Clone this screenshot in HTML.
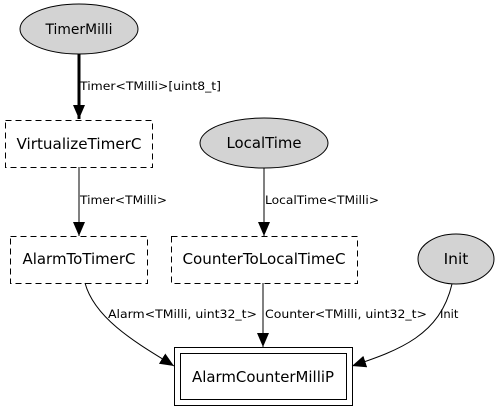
<!DOCTYPE html>
<html><head><style>
body{margin:0;background:#fff}
svg text{font-family:"DejaVu Sans","Liberation Sans",sans-serif}
</style></head><body>
<svg width="499" height="413" viewBox="0 0 499 413" xmlns="http://www.w3.org/2000/svg">
<defs>
<marker id="a" markerWidth="14" markerHeight="12" refX="14" refY="6" orient="auto" markerUnits="userSpaceOnUse" viewBox="0 0 14 12">
<path d="M0,0 L14,6 L0,12 z" fill="#000"/></marker>
</defs>
<g fill="#d3d3d3" stroke="#000" stroke-width="1">
<ellipse cx="79" cy="29" rx="59" ry="25"/>
<ellipse cx="264" cy="143" rx="64" ry="25"/>
<ellipse cx="456" cy="259" rx="38" ry="25"/>
</g>
<g fill="none" stroke="#000" stroke-dasharray="6,4">
<rect x="5.5" y="120.5" width="147" height="47"/>
<rect x="10.5" y="236.5" width="137" height="47"/>
<rect x="171.5" y="236.5" width="186" height="47"/>
</g>
<rect x="174.5" y="347.5" width="178" height="58" fill="none" stroke="#000"/>
<rect x="180.5" y="353.5" width="166" height="46" fill="none" stroke="#000"/>
<g stroke="#000" fill="none">
<path d="M79,54 L79,119" stroke-width="3" marker-end="url(#a)"/>
<path d="M79,167 L79,236" marker-end="url(#a)"/>
<path d="M264,168 L264,236" marker-end="url(#a)"/>
<path d="M263,283 L263,347" marker-end="url(#a)"/>
<path d="M85,283 C95,320 140,345 174,366" marker-end="url(#a)"/>
<path d="M452,284 C440,335 400,350 352,366" marker-end="url(#a)"/>
</g>
<g font-size="15.5" text-anchor="middle" fill="#000">
<text x="79" y="34" font-size="14.5" textLength="67" lengthAdjust="spacingAndGlyphs">TimerMilli</text>
<text x="79" y="149" textLength="125" lengthAdjust="spacingAndGlyphs">VirtualizeTimerC</text>
<text x="264" y="148" textLength="75" lengthAdjust="spacingAndGlyphs">LocalTime</text>
<text x="79" y="264" textLength="113" lengthAdjust="spacingAndGlyphs">AlarmToTimerC</text>
<text x="264" y="264" textLength="163" lengthAdjust="spacingAndGlyphs">CounterToLocalTimeC</text>
<text x="456" y="264">Init</text>
<text x="263" y="382" textLength="142" lengthAdjust="spacingAndGlyphs">AlarmCounterMilliP</text>
</g>
<g font-size="11.5" fill="#000">
<text x="80" y="90" textLength="141" lengthAdjust="spacingAndGlyphs">Timer&lt;TMilli&gt;[uint8_t]</text>
<text x="80" y="204" textLength="87" lengthAdjust="spacingAndGlyphs">Timer&lt;TMilli&gt;</text>
<text x="265" y="204" textLength="114" lengthAdjust="spacingAndGlyphs">LocalTime&lt;TMilli&gt;</text>
<text x="108" y="318" textLength="149" lengthAdjust="spacingAndGlyphs">Alarm&lt;TMilli, uint32_t&gt;</text>
<text x="265" y="318" textLength="162" lengthAdjust="spacingAndGlyphs">Counter&lt;TMilli, uint32_t&gt;</text>
<text x="440" y="318">Init</text>
</g>
</svg>
</body></html>
